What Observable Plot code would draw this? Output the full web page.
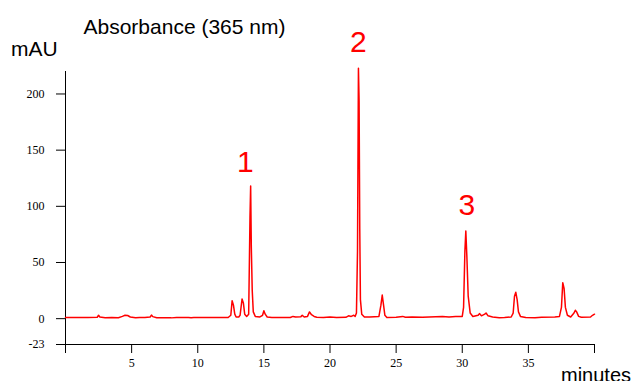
<!DOCTYPE html>
<html>
<head>
<meta charset="utf-8">
<script src="https://cdn.jsdelivr.net/npm/d3@7"></script>
<script src="https://cdn.jsdelivr.net/npm/@observablehq/plot@0.6"></script>
<style>
  html, body { margin: 0; padding: 0; background: #fff; }
  #chart svg { display: block; }
</style>
</head>
<body>
<div id="chart"></div>
<script>
// Retention time (minutes) and absorbance (mAU)
const times = [
  0, 1.7, 2.4, 2.5, 2.6, 3.0, 3.5, 4.0, 4.3, 4.5, 4.7, 4.9, 5.3, 5.6, 6.0, 6.4, 6.5, 6.6, 6.9, 7.3,
  8.0, 8.4, 9.3, 9.5, 9.7, 12.3, 12.5, 12.6, 12.7, 12.8, 12.9, 13.1, 13.2, 13.35, 13.45, 13.55, 13.7,
  13.85, 13.95, 14.0, 14.05, 14.12, 14.2, 14.35, 14.7, 14.9, 15.0, 15.1, 15.25, 15.6, 17.0, 17.2, 17.4,
  17.8, 17.9, 18.05, 18.3, 18.45, 18.6, 18.8, 19.0, 19.5, 20.0, 20.5, 21.2, 21.4, 21.6, 21.8, 21.9,
  22.0, 22.08, 22.15, 22.2, 22.25, 22.3, 22.4, 22.6, 23.0, 23.7, 23.85, 23.95, 24.05, 24.15, 24.3,
  25.0, 25.5, 25.7, 26.2, 27.0, 28.5, 29.0, 29.5, 30.0, 30.1, 30.2, 30.27, 30.35, 30.45, 30.6, 30.8,
  31.2, 31.3, 31.45, 31.7, 31.8, 31.95, 32.3, 32.8, 33.2, 33.7, 33.85, 33.95, 34.05, 34.15, 34.25,
  34.4, 34.8, 35.5, 36.0, 37.0, 37.35, 37.5, 37.6, 37.7, 37.8, 37.95, 38.2, 38.45, 38.55, 38.65,
  38.8, 39.0, 39.7, 39.85, 40.0
];
const absorbance = [
  1, 1, 1.3, 3, 1.5, 0.8, 1, 0.8, 2, 3, 2.8, 1.5, 0.8, 1, 1, 1.5, 3.2, 1.8, 0.8, 0.9,
  0.7, 1, 1, 0.8, 1, 1, 3, 16, 12, 4, 1.5, 1.5, 3, 17.5, 14, 4, 2,
  4, 90, 118, 64, 25, 6, 2, 1.5, 3, 7, 4, 1.5, 1, 1, 2, 1.5,
  1.8, 3, 1.5, 2, 6, 3.5, 2, 1.3, 1, 1.5, 1, 1.2, 2.5, 2, 3, 2,
  5, 60, 223, 194, 80, 17, 4, 1.5, 1.5, 2, 12, 21, 12, 3, 1,
  1.2, 2, 1.2, 1.5, 1.2, 2, 1.5, 2, 2, 10, 60, 78, 55, 20, 5, 2,
  3, 4.5, 2.5, 4, 5, 2.5, 1.5, 0.8, 1, 1.5, 5, 20, 23.5, 17, 6,
  2, 1, 0.8, 1.2, 1.5, 2, 10, 32, 27, 10, 3, 1.5, 5, 7.5, 6,
  2, 1.2, 1.5, 3, 4
];

// Peak annotations
const peakLabels = ["1", "2", "3"];
const peakLabelTimes = [13.6, 22.15, 30.35];
const peakLabelValues = [139, 246, 101];

// Axis ticks
const xTicks = [0, 5, 10, 15, 20, 25, 30, 35, 40];
const yTicks = [-23, 0, 50, 100, 150, 200];

const title = "Absorbance (365 nm)";
const yUnit = "mAU";
const xUnit = "minutes";

const trace = times.map((t, i) => ({t, v: absorbance[i]}));
const labels = peakLabels.map((s, i) => ({s, t: peakLabelTimes[i], v: peakLabelValues[i]}));

const sans = "'Liberation Sans', Arial, sans-serif";
const serif = "'Liberation Serif', 'Times New Roman', 'DejaVu Serif', serif";

const chart = Plot.plot({
  width: 637,
  height: 381,
  marginLeft: 65,
  marginRight: 43,
  marginTop: 71,
  marginBottom: 37,
  style: {background: "#fff", color: "#000"},
  x: {domain: [0, 40]},
  y: {domain: [-23, 220]},
  marks: [
    Plot.axisX({ticks: xTicks, tickSize: 9, tickPadding: 5, fontSize: 12,
      tickFormat: d => (d === 0 || d === 40) ? "" : String(d), label: null}),
    Plot.axisY({ticks: yTicks, tickSize: 9, tickPadding: 12, fontSize: 12,
      tickFormat: d => String(d), label: null}),
    Plot.ruleX([0], {stroke: "#000"}),
    Plot.ruleY([-23], {stroke: "#000"}),
    Plot.line(trace, {x: "t", y: "v", stroke: "#ff0000", strokeWidth: 1.5, curve: "linear"}),
    Plot.text(labels, {x: "t", y: "v", text: "s", fill: "#ff0000", fontSize: 30, fontFamily: sans, lineAnchor: "middle"}),
    Plot.text([title], {frameAnchor: "top-left", textAnchor: "start", lineAnchor: "bottom", dx: 18, dy: -37.7, fontSize: 21, fontFamily: sans, fill: "#000"}),
    Plot.text([yUnit], {frameAnchor: "top-left", textAnchor: "start", lineAnchor: "bottom", dx: -54.5, dy: -16, fontSize: 21, fontFamily: sans, fill: "#000"}),
    Plot.text([xUnit], {frameAnchor: "bottom-right", textAnchor: "start", lineAnchor: "bottom", dx: -33.5, dy: 37, fontSize: 20, fontFamily: sans, fill: "#000"})
  ]
});
// Tick labels use a serif face, as in the reference
chart.querySelectorAll("text").forEach(t => {
  if (/^-?\d+$/.test(t.textContent.trim()) && !t.closest('[fill="#ff0000"]')) {
    t.style.fontFamily = serif;
    t.setAttribute("font-family", serif);
  }
});
document.getElementById("chart").appendChild(chart);
</script>
</body>
</html>
